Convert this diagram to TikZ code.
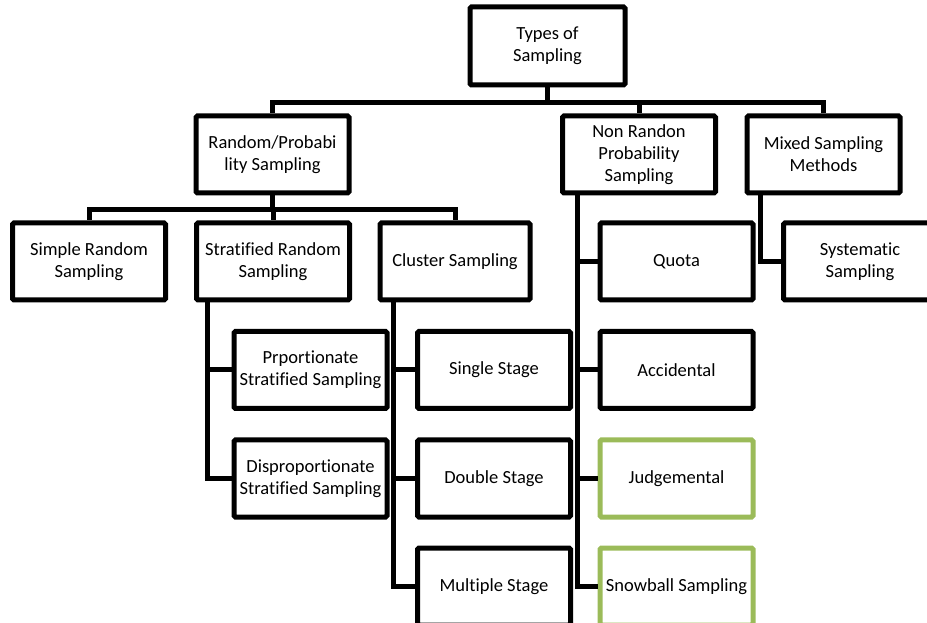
\documentclass[tikz,border=0pt]{standalone}
\usepackage{fontspec}
\setmainfont{Carlito}[Ligatures=NoCommon]
\usepackage{xcolor}
\usepackage{tikz}
\definecolor{olivegreen}{HTML}{9BBB59}

\begin{document}
\begin{tikzpicture}[x=1pt, y=1pt, every node/.style={rectangle, draw, line width=5pt, rounded corners=1.5pt, minimum width=153pt, minimum height=77pt, inner sep=1pt, align=center, font=\fontsize{18.5}{22}\selectfont}]
    \useasboundingbox (0,0) rectangle (927,622);
    \node[minimum width=155pt, minimum height=78pt] (A) at (547.5,576) {Types of\\Sampling};
    \node (B) at (272.5,467.5) {Random/Probabi\\lity Sampling};
    \node (C) at (639,467.5) {Non Randon\\Probability\\Sampling};
    \node (D) at (823.5,467.5) {Mixed Sampling\\Methods};

    \node (E) at (89,360.5) {Simple Random\\Sampling};
    \node (F) at (273,360.5) {Stratified Random\\Sampling};
    \node[minimum width=150pt] (G) at (455,360.5) {Cluster Sampling};
    \node (H) at (676.5,360.5) {Quota};
    \node (I) at (860,360.5) {Systematic\\Sampling};

    \node (J) at (310.5,252) {Prportionate\\Stratified Sampling};
    \node (K) at (494,252) {Single Stage};
    \node (L) at (676.5,252) {Accidental};

    \node (M) at (310.5,143.5) {Disproportionate\\Stratified Sampling};
    \node (N) at (494,143.5) {Double Stage};
    \node[draw=olivegreen] (O) at (676.5,143.5) {Judgemental};

    \node (P) at (494,35.5) {Multiple Stage};
    \node[draw=olivegreen] (Q) at (676.5,35.5) {Snowball Sampling};

    \draw[line width=5pt] (A.south) -- ++(0,-15) -| (B.north);
    \draw[line width=5pt] (A.south) -- ++(0,-15) -| (C.north);
    \draw[line width=5pt] (A.south) -- ++(0,-15) -| (D.north);

    \draw[line width=5pt] (B.south) -- ++(0,-14) -| (E.north);
    \draw[line width=5pt] (B.south) -- ++(0,-14) -| (F.north);
    \draw[line width=5pt] (B.south) -- ++(0,-14) -| (G.north);

    \draw[line width=5pt] ([xshift=13pt]F.south west) |- (J.west);
    \draw[line width=5pt] ([xshift=13pt]F.south west) |- (M.west);

    \draw[line width=5pt] ([xshift=16pt]G.south west) |- (K.west);
    \draw[line width=5pt] ([xshift=16pt]G.south west) |- (N.west);
    \draw[line width=5pt] ([xshift=16pt]G.south west) |- (P.west);

    \draw[line width=5pt] ([xshift=17pt]C.south west) |- (H.west);
    \draw[line width=5pt] ([xshift=17pt]C.south west) |- (L.west);
    \draw[line width=5pt] ([xshift=17pt]C.south west) |- (O.west);
    \draw[line width=5pt] ([xshift=17pt]C.south west) |- (Q.west);

    \draw[line width=5pt] ([xshift=16pt]D.south west) |- (I.west);
\end{tikzpicture}
\end{document}
